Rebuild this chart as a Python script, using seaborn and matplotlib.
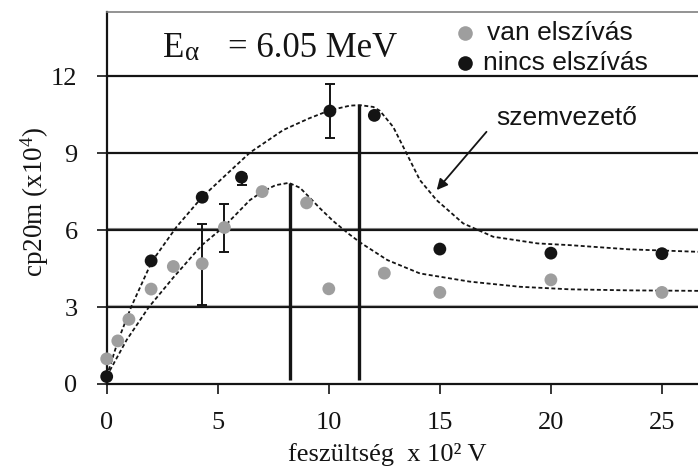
import numpy as np
import pandas as pd
import matplotlib
matplotlib.use("Agg")
import matplotlib.pyplot as plt
import seaborn as sns

# ---- data ----
van_x = [0, 0.5, 1, 2, 3, 4.3, 5.3, 7, 9, 10, 12.5, 15, 20, 25]
van_y = [0.98, 1.68, 2.52, 3.7, 4.58, 4.69, 6.1, 7.5, 7.06, 3.71, 4.32, 3.57, 4.06, 3.57]

nincs_x = [0, 2, 4.3, 6.07, 10.05, 12.05, 15, 20, 25]
nincs_y = [0.29, 4.8, 7.28, 8.06, 10.64, 10.47, 5.26, 5.1, 5.08]

# error bars (x, y, lower, upper)
err_x = [4.3, 5.3, 6.07, 10.05]
err_y = [4.69, 6.1, 8.06, 10.64]
err_lo = [1.62, 0.95, 0.32, 1.04]
err_hi = [1.54, 0.91, 0.12, 1.05]

# eye-guide curves (szemvezető)
upper_x = [0, 0.52, 1.1, 2.03, 3.15, 4.28, 5.28, 6.45, 7.95, 9.1, 10.05, 10.95, 11.4,
           12.0, 12.3, 12.9, 13.5, 14.1, 14.85, 16.05, 17.4, 19.4, 20.9, 23.5, 26.7]
upper_y = [0.3, 1.71, 3.0, 4.77, 6.13, 7.27, 8.08, 9.02, 9.9, 10.35, 10.67, 10.85, 10.87,
           10.8, 10.65, 10.02, 8.99, 7.95, 7.17, 6.26, 5.74, 5.48, 5.41, 5.25, 5.15]

lower_x = [0, 0.9, 1.9, 3.0, 4.28, 5.28, 6.45, 7.0, 7.6, 8.2, 8.7, 9.1, 9.6, 10.2,
           10.9, 11.44, 12.64, 14.1, 16.35, 18.6, 20.86, 23.5, 26.7]
lower_y = [0.3, 1.72, 3.0, 4.15, 5.41, 6.13, 7.17, 7.49, 7.75, 7.84, 7.65, 7.3, 6.85, 6.35,
           5.85, 5.5, 4.83, 4.31, 3.99, 3.79, 3.69, 3.65, 3.63]

peak_x = [8.25, 11.38]
peak_top = [7.84, 10.87]

hlines_y = [3, 6, 9, 12]
xticks = [0, 5, 10, 15, 20, 25]
yticks = [0, 3, 6, 9, 12]

van_df = pd.DataFrame({"x": van_x, "y": van_y})
nincs_df = pd.DataFrame({"x": nincs_x, "y": nincs_y})

# ---- plot ----
sns.set_style("white")
plt.rcParams["font.family"] = ["Liberation Serif", "DejaVu Serif"]
plt.rcParams["mathtext.fontset"] = "custom"
plt.rcParams["mathtext.rm"] = "Liberation Serif"
plt.rcParams["mathtext.default"] = "regular"

W, H = 698, 471
fig = plt.figure(figsize=(W / 100, H / 100), dpi=100)
ax = fig.add_axes([106.7 / W, 1 - 384 / H, 1 - 106.7 / W, (384 - 12) / H])

GREY = "#9e9e9e"
BLACK = "#141414"

for yv in hlines_y:
    ax.axhline(yv, color=BLACK, lw=1.6, zorder=1)
ax.axhline(6.09, color="#808080", lw=0.8, zorder=1)
ax.axhline(3.06, color="#b0b0b0", lw=0.8, zorder=1)

ax.vlines(peak_x, 0.15, peak_top, color=BLACK, lw=2.4, zorder=3)

dash = (0, (2.2, 1.4))
ax.plot(upper_x, upper_y, color=BLACK, lw=1.3, linestyle=dash, zorder=3)
ax.plot(lower_x, lower_y, color=BLACK, lw=1.3, linestyle=dash, zorder=3)

ax.errorbar(err_x, err_y, yerr=[err_lo, err_hi], fmt="none", ecolor=BLACK,
            elinewidth=1.4, capsize=3.8, capthick=1.4, zorder=2)

sns.scatterplot(data=van_df, x="x", y="y", ax=ax, color=GREY, s=85,
                edgecolor="none", zorder=4, clip_on=False)
sns.scatterplot(data=nincs_df, x="x", y="y", ax=ax, color=BLACK, s=85,
                edgecolor="none", zorder=5, clip_on=False)

ax.set_xlim(0, (698 - 106.7) / 22.21)
ax.set_ylim(0, 14.5)
ax.set_xticks(xticks)
ax.set_yticks(yticks)
ax.tick_params(axis="both", direction="out", length=7, width=1.2, labelsize=19,
               colors=BLACK, left=True, bottom=True)
ax.tick_params(axis="x", pad=13)
ax.tick_params(axis="y", pad=14)

for side in ["left", "bottom"]:
    ax.spines[side].set_color(BLACK)
    ax.spines[side].set_linewidth(1.6)
ax.spines["top"].set_color("#808080")
ax.spines["top"].set_linewidth(1.2)
ax.spines["right"].set_visible(False)

ax.set_xlabel("feszültség  x 10\u00b2 V", fontsize=19, color=BLACK)
ax.xaxis.set_label_coords(0.475, -0.207)
ax.xaxis.label.set_va("baseline")
ax.set_ylabel("cp20m (x10$^{4}$)", fontsize=19.5, color=BLACK)
ax.yaxis.set_label_coords(-0.094, 0.49)

# title-like energy label
fig.text(163 / W, 1 - 56.7 / H, "E", fontsize=25, color=BLACK, va="baseline")
fig.text(185 / W, 1 - 60.5 / H, "\u03b1", fontsize=19.5, color=BLACK, va="baseline")
fig.text(228.3 / W, 1 - 56.7 / H, "= 6.05 MeV", fontsize=25, color=BLACK, va="baseline")

# legend drawn by hand
sans = ["Liberation Sans", "DejaVu Sans"]
ax.plot([465 / W], [1 - 33.3 / H], "o", color=GREY, ms=10.5, mec="none",
        transform=fig.transFigure, clip_on=False)
ax.plot([465 / W], [1 - 63.3 / H], "o", color=BLACK, ms=10.5, mec="none",
        transform=fig.transFigure, clip_on=False)
fig.text(487.3 / W, 1 - 40 / H, "van elszívás", fontsize=19, family=sans,
         color=BLACK, va="baseline")
fig.text(483.3 / W, 1 - 70 / H, "nincs elszívás", fontsize=19, family=sans,
         color=BLACK, va="baseline")

# annotation
ax.annotate("", xy=(14.86, 7.56), xytext=(17.1, 9.83),
            arrowprops=dict(arrowstyle="-|>", color=BLACK, lw=1.3,
                            mutation_scale=16, shrinkA=0, shrinkB=0))
fig.text(496.7 / W, 1 - 125 / H, "szemvezető", fontsize=19, family=sans,
         color=BLACK, va="baseline")

fig.savefig("out.png", dpi=100)
